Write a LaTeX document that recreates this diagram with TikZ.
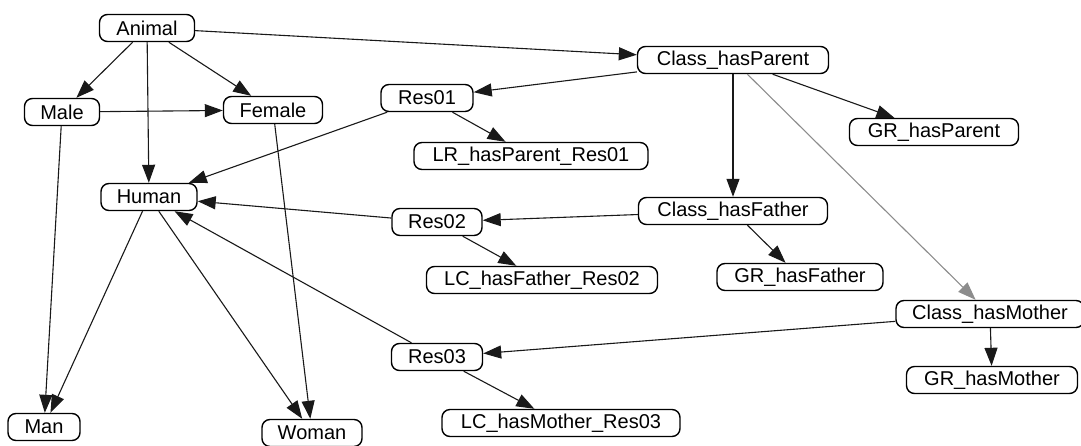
\documentclass[tikz,border=0pt]{standalone}
\usepackage{fontspec}
\setmainfont{Liberation Sans}
\usetikzlibrary{arrows.meta}
\tikzset{
  cls/.style={draw=black, line width=1.4pt, rounded corners=8pt, fill=white,
    inner sep=0pt, minimum height=27pt, font=\fontsize{20}{22}\selectfont},
  rel/.style={-{Triangle[length=18pt,width=13pt]}, line width=1.1pt, draw=black!90},
  relgray/.style={rel, draw=black!45}
}
\begin{document}
\begin{tikzpicture}[x=1pt,y=-1pt]
\useasboundingbox (0,0) rectangle (1081,445);
% class nodes
\node[cls, minimum width=95pt]  (animal) at (147,28) {Animal};
\node[cls, minimum width=75pt]  (male)   at (62,112) {Male};
\node[cls, minimum width=99pt]  (female) at (273,110) {Female};
\node[cls, minimum width=96pt]  (human)  at (149,197) {Human};
\node[cls, minimum width=72pt]  (man)    at (44,427) {Man};
\node[cls, minimum width=100pt] (woman)  at (312,433) {Woman};
\node[cls, minimum width=191pt] (cpar)   at (733,60) {Class\_hasParent};
\node[cls, minimum width=92pt]  (res1)   at (427,98) {Res01};
\node[cls, minimum width=234pt] (lr1)    at (531,156) {LR\_hasParent\_Res01};
\node[cls, minimum width=169pt] (gpar)   at (934,132) {GR\_hasParent};
\node[cls, minimum width=189pt] (cfat)   at (733,211) {Class\_hasFather};
\node[cls, minimum width=90pt]  (res2)   at (437,222) {Res02};
\node[cls, minimum width=231pt] (lc2)    at (542,280) {LC\_hasFather\_Res02};
\node[cls, minimum width=166pt] (gfat)   at (800,277) {GR\_hasFather};
\node[cls, minimum width=188pt] (cmot)   at (990,314) {Class\_hasMother};
\node[cls, minimum width=171pt] (gmot)   at (992,380) {GR\_hasMother};
\node[cls, minimum width=91pt]  (res3)   at (437,357) {Res03};
\node[cls, minimum width=238pt] (lc3)    at (561,423) {LC\_hasMother\_Res03};
% connectors
\draw[rel] (animal) -- (male);
\draw[rel] (animal) -- (human);
\draw[rel] (animal) -- (female);
\draw[rel] (animal) -- (cpar);
\draw[rel] (male) -- (female);
\draw[rel] (male) -- (man);
\draw[rel] (female) -- (woman);
\draw[rel] (human) -- (man);
\draw[rel] (human) -- (woman);
\draw[rel] (cpar) -- (res1);
\draw[rel] (cpar) -- (gpar);
\draw[rel] (cpar) -- (cfat);
\draw[relgray] (cpar) -- (cmot);
\draw[rel] (res1) -- (human);
\draw[rel] (res1) -- (lr1);
\draw[rel] (cfat) -- (res2);
\draw[rel] (cfat) -- (gfat);
\draw[rel] (res2) -- (human);
\draw[rel] (res2) -- (lc2);
\draw[rel] (cmot) -- (res3);
\draw[rel] (cmot) -- (gmot);
\draw[rel] (res3) -- (human);
\draw[rel] (res3) -- (lc3);
\end{tikzpicture}
\end{document}
